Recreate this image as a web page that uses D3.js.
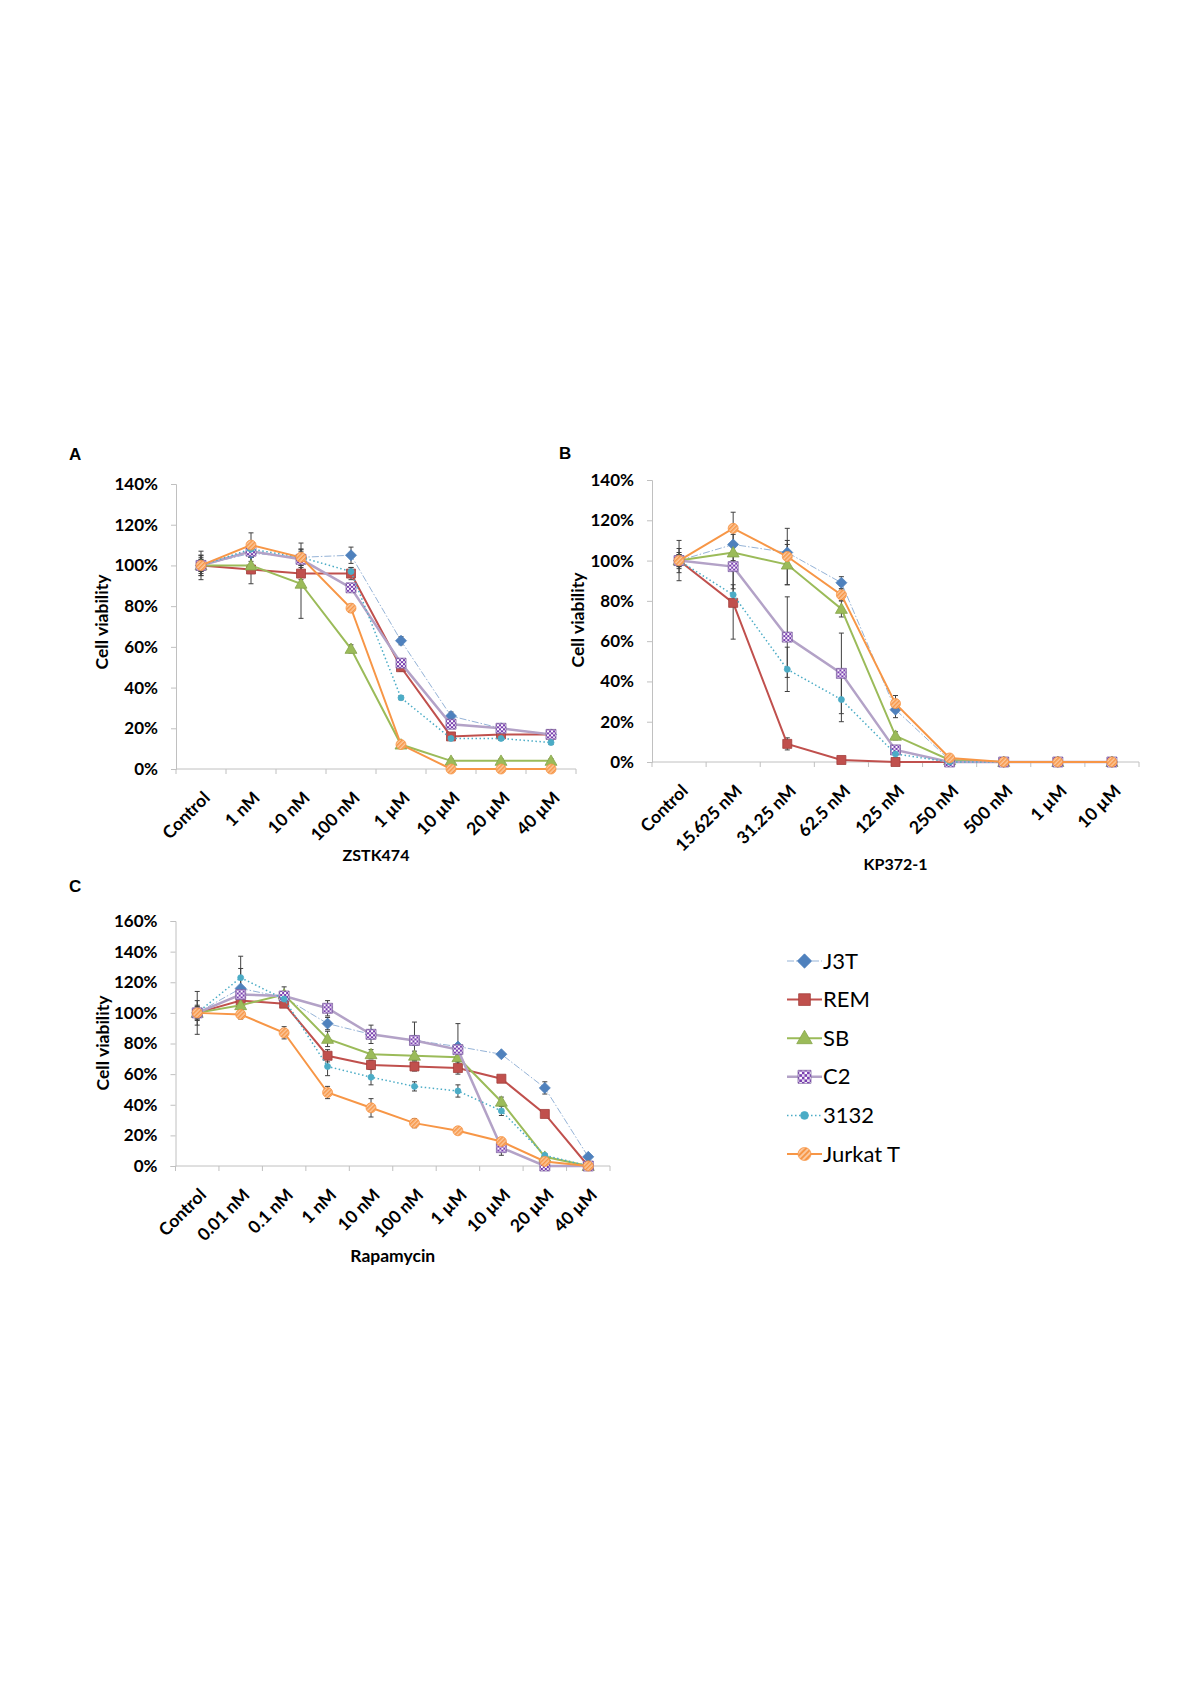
<!DOCTYPE html>
<html>
<head>
<meta charset="utf-8">
<script src="https://cdn.jsdelivr.net/npm/d3@7"></script>
<style>
  body { margin: 0; background: #fff; }
  svg { display: block; }
  .tick text { font-family: Lato, "Open Sans", sans-serif; font-weight: bold; font-size: 17px; fill: #000; }
  .lbl { font-family: Lato, "Open Sans", sans-serif; font-weight: bold; fill: #000; }
</style>
</head>
<body>
<div id="chart"></div>
<script>
// series names, in drawing order
const seriesNames = ["J3T", "REM", "SB", "C2", "3132", "Jurkat T"];

// ---- panel A: ZSTK474 ----
const catsA = ["Control", "1 nM", "10 nM", "100 nM", "1 µM", "10 µM", "20 µM", "40 µM"];
const a_J3T   = [100, 106, 104, 105, 63, 26, 20, 17];
const a_REM   = [100, 98, 96, 96, 50, 16, 17, 17];
const a_SB    = [100, 100, 91, 59, 12, 4, 4, 4];
const a_C2    = [100, 107, 103, 89, 52, 22, 20, 17];
const a_3132  = [100, 108, 104, 97, 35, 15, 15, 13];
const a_JurT  = [100, 110, 104, 79, 12, 0, 0, 0];
const aErr_J3T  = [7, 4, 4, 4, 2, 2, 1, 1];
const aErr_REM  = [5, 7, 3, 3, 2, 1, 1, 1];
const aErr_SB   = [4, 4, 17, 2, 1, 1, 1, 1];
const aErr_C2   = [3, 3, 3, 2, 2, 2, 1, 1];
const aErr_3132 = [5, 3, 7, 2, 1, 1, 1, 1];
const aErr_JurT = [3, 6, 3, 2, 1, 0, 0, 0];

// ---- panel B: KP372-1 ----
const catsB = ["Control", "15.625 nM", "31.25 nM", "62.5 nM", "125 nM", "250 nM", "500 nM", "1 µM", "10 µM"];
const b_J3T   = [100, 108, 104, 89, 26, 1, 0, 0, 0];
const b_REM   = [100, 79, 9, 1, 0, 0, 0, 0, 0];
const b_SB    = [100, 104, 98, 76, 13, 1, 0, 0, 0];
const b_C2    = [100, 97, 62, 44, 6, 0, 0, 0, 0];
const b_3132  = [100, 83, 46, 31, 4, 0, 0, 0, 0];
const b_JurT  = [100, 116, 102, 83, 29, 2, 0, 0, 0];
const bErr_J3T  = [6, 5, 6, 3, 4, 0, 0, 0, 0];
const bErr_REM  = [10, 18, 3, 1, 0, 0, 0, 0, 0];
const bErr_SB   = [3, 4, 10, 4, 2, 0, 0, 0, 0];
const bErr_C2   = [3, 11, 20, 20, 2, 0, 0, 0, 0];
const bErr_3132 = [4, 5, 11, 11, 2, 0, 0, 0, 0];
const bErr_JurT = [2, 8, 14, 3, 4, 0, 0, 0, 0];

// ---- panel C: Rapamycin ----
const catsC = ["Control", "0.01 nM", "0.1 nM", "1 nM", "10 nM", "100 nM", "1 µM", "10 µM", "20 µM", "40 µM"];
const c_J3T   = [100, 116, 110, 93, 86, 82, 78, 73, 51, 6];
const c_REM   = [100, 108, 106, 72, 66, 65, 64, 57, 34, 0];
const c_SB    = [100, 105, 112, 83, 73, 72, 71, 42, 6, 0];
const c_C2    = [100, 112, 111, 103, 86, 82, 76, 12, 0, 0];
const c_3132  = [100, 123, 109, 65, 58, 52, 49, 36, 7, 0];
const c_JurT  = [100, 99, 87, 48, 38, 28, 23, 16, 3, 0];
const cErr_J3T  = [14, 13, 3, 4, 3, 3, 15, 1, 4, 1];
const cErr_REM  = [4, 3, 2, 4, 3, 3, 4, 2, 2, 1];
const cErr_SB   = [3, 3, 5, 5, 3, 3, 3, 3, 1, 0];
const cErr_C2   = [5, 4, 3, 5, 6, 12, 3, 5, 1, 0];
const cErr_3132 = [8, 14, 3, 6, 5, 3, 4, 3, 1, 0];
const cErr_JurT = [4, 3, 4, 4, 6, 3, 2, 2, 1, 0];

const yTicksA = [0, 20, 40, 60, 80, 100, 120, 140];
const yTicksC = [0, 20, 40, 60, 80, 100, 120, 140, 160];

// styling per series
const styles = {
  "J3T":      {line: "#95B3D7", width: 1,   dash: "7,2,1.5,2", marker: "diamond", fill: "#4F81BD", stroke: "#4F81BD", size: 11},
  "REM":      {line: "#C0504D", width: 2,   dash: null,        marker: "square",  fill: "#C0504D", stroke: "#A33F3C", size: 9},
  "SB":       {line: "#9BBB59", width: 2,   dash: null,        marker: "triangle",fill: "#9BBB59", stroke: "#85A34A", size: 12},
  "C2":       {line: "#B3A2C7", width: 2.5, dash: null,        marker: "square",  fill: "url(#checker)", stroke: "#8064A2", size: 10},
  "3132":     {line: "#4BACC6", width: 1.5, dash: "1.5,2.5",   marker: "circle",  fill: "#4BACC6", stroke: "#4BACC6", size: 6},
  "Jurkat T": {line: "#F79646", width: 2,   dash: null,        marker: "circle",  fill: "url(#hatch)", stroke: "#F79646", size: 10}
};

const svg = d3.select("#chart").append("svg")
  .attr("width", 1200).attr("height", 1698)
  .style("background", "#fff");

// patterns for the filled markers
const defs = svg.append("defs");
const chk = defs.append("pattern").attr("id", "checker")
  .attr("patternUnits", "userSpaceOnUse").attr("width", 4).attr("height", 4);
chk.append("rect").attr("width", 4).attr("height", 4).attr("fill", "#7A3FB0");
chk.append("rect").attr("width", 2).attr("height", 2).attr("fill", "#fff");
chk.append("rect").attr("x", 2).attr("y", 2).attr("width", 2).attr("height", 2).attr("fill", "#E6DCF0");
const hatch = defs.append("pattern").attr("id", "hatch")
  .attr("patternUnits", "userSpaceOnUse").attr("width", 3).attr("height", 3)
  .attr("patternTransform", "rotate(45)");
hatch.append("rect").attr("width", 3).attr("height", 3).attr("fill", "#FBC89E");
hatch.append("rect").attr("width", 1.5).attr("height", 3).attr("fill", "#F79646");

// square diamond (d3's own is stretched)
const evenDiamond = {
  draw(ctx, size) {
    let r = Math.sqrt(size / 2);
    ctx.moveTo(0, -r); ctx.lineTo(r, 0); ctx.lineTo(0, r); ctx.lineTo(-r, 0); ctx.closePath();
  }
};

function symbolFor(s) {
  let st = styles[s];
  let type = {diamond: evenDiamond, square: d3.symbolSquare, triangle: d3.symbolTriangle, circle: d3.symbolCircle}[st.marker];
  let area = st.marker == "circle" ? Math.PI * (st.size/2) * (st.size/2)
           : st.marker == "diamond" ? st.size * st.size / 2
           : st.marker == "triangle" ? st.size * st.size * 0.43
           : st.size * st.size;
  return d3.symbol().type(type).size(area)();
}

/**
 * Draws one panel: axes, error bars, lines and markers.
 */
function drawPanel(p) {
  let g = svg.append("g");
  let x = d3.scaleBand().domain(p.cats).range([p.x0, p.x1]);
  let y = d3.scaleLinear().domain([0, p.yMax]).range([p.y0, p.yTop]);
  let cx = c => x(c) + x.bandwidth()/2;

  // y axis
  let ya = g.append("g").attr("transform", `translate(${p.x0},0)`)
    .call(d3.axisLeft(y).tickValues(p.yTicks).tickFormat(d => d + "%").tickSize(5).tickPadding(13));
  ya.select(".domain").attr("stroke", "#C0C0C0");
  ya.selectAll(".tick line").attr("stroke", "#C0C0C0");

  // x axis line + boundary ticks
  g.append("line").attr("x1", p.x0).attr("x2", p.x1).attr("y1", p.y0).attr("y2", p.y0)
    .attr("stroke", "#C0C0C0");
  g.selectAll(".xt").data(d3.range(p.cats.length + 1)).enter().append("line")
    .attr("x1", i => p.x0 + i * x.step()).attr("x2", i => p.x0 + i * x.step())
    .attr("y1", p.y0).attr("y2", p.y0 + 5).attr("stroke", "#C0C0C0");
  g.selectAll(".xl").data(p.cats).enter().append("text")
    .attr("class", "lbl").attr("font-size", 17.5)
    .attr("text-anchor", "end")
    .attr("transform", c => `translate(${cx(c) + 10},${p.y0 + 30}) rotate(-45)`)
    .text(c => c);

  // titles
  g.append("text").attr("class", "lbl").attr("font-size", p.titleSize).attr("text-anchor", "middle")
    .attr("x", (p.x0 + p.x1)/2).attr("y", p.titleY).text(p.title);
  g.append("text").attr("class", "lbl").attr("font-size", 17.5).attr("text-anchor", "middle")
    .attr("transform", `translate(${p.ylabX},${p.ylabY}) rotate(-90)`).text("Cell viability");
  g.append("text").attr("font-family", "Liberation Sans, Arial, sans-serif").attr("font-weight", "bold")
    .attr("font-size", 17).attr("x", p.letterX).attr("y", p.letterY).text(p.letter);

  // error bars
  p.series.forEach((vals, si) => {
    let errs = p.errors[si];
    let eb = g.append("g").attr("stroke", "#404040").attr("stroke-width", 1);
    p.cats.forEach((c, i) => {
      if (!errs[i]) return;
      let yt = y(vals[i] + errs[i]), yb = y(Math.max(0, vals[i] - errs[i]));
      eb.append("line").attr("x1", cx(c)).attr("x2", cx(c)).attr("y1", yt).attr("y2", yb);
      eb.append("line").attr("x1", cx(c) - 2.5).attr("x2", cx(c) + 2.5).attr("y1", yt).attr("y2", yt);
      eb.append("line").attr("x1", cx(c) - 2.5).attr("x2", cx(c) + 2.5).attr("y1", yb).attr("y2", yb);
    });
  });

  // lines and markers, series after series
  p.series.forEach((vals, si) => {
    let name = seriesNames[si];
    let st = styles[name];
    let line = d3.line().x((d, i) => cx(p.cats[i])).y(d => y(d));
    g.append("path").attr("d", line(vals)).attr("fill", "none")
      .attr("stroke", st.line).attr("stroke-width", st.width)
      .attr("stroke-dasharray", st.dash);
    g.selectAll(null).data(vals).enter().append("path")
      .attr("d", symbolFor(name))
      .attr("transform", (d, i) => `translate(${cx(p.cats[i])},${y(d) + (st.marker == "triangle" ? 1 : 0)})`)
      .attr("fill", st.fill).attr("stroke", st.stroke).attr("stroke-width", 0.8);
  });
}

drawPanel({
  letter: "A", letterX: 69, letterY: 460,
  cats: catsA, x0: 176, x1: 576, y0: 769, yTop: 484, yMax: 140, yTicks: yTicksA,
  title: "ZSTK474", titleSize: 16, titleY: 861, ylabX: 108, ylabY: 622,
  series: [a_J3T, a_REM, a_SB, a_C2, a_3132, a_JurT],
  errors: [aErr_J3T, aErr_REM, aErr_SB, aErr_C2, aErr_3132, aErr_JurT]
});
drawPanel({
  letter: "B", letterX: 559, letterY: 459,
  cats: catsB, x0: 652, x1: 1139, y0: 762, yTop: 480, yMax: 140, yTicks: yTicksA,
  title: "KP372-1", titleSize: 16, titleY: 870, ylabX: 584, ylabY: 620,
  series: [b_J3T, b_REM, b_SB, b_C2, b_3132, b_JurT],
  errors: [bErr_J3T, bErr_REM, bErr_SB, bErr_C2, bErr_3132, bErr_JurT]
});
drawPanel({
  letter: "C", letterX: 69, letterY: 892,
  cats: catsC, x0: 175.5, x1: 610, y0: 1166, yTop: 921, yMax: 160, yTicks: yTicksC,
  title: "Rapamycin", titleSize: 17.5, titleY: 1262, ylabX: 109, ylabY: 1043,
  series: [c_J3T, c_REM, c_SB, c_C2, c_3132, c_JurT],
  errors: [cErr_J3T, cErr_REM, cErr_SB, cErr_C2, cErr_3132, cErr_JurT]
});

// legend
const legY = d3.scalePoint().domain(seriesNames).range([961, 1154]);
const leg = svg.append("g");
seriesNames.forEach(name => {
  let st = styles[name];
  let yy = legY(name);
  leg.append("line").attr("x1", 787).attr("x2", 822).attr("y1", yy).attr("y2", yy)
    .attr("stroke", st.line).attr("stroke-width", st.width).attr("stroke-dasharray", st.dash);
  leg.append("path").attr("d", symbolFor(name))
    .attr("transform", `translate(804.5,${yy + (st.marker == "triangle" ? 1 : 0)}) scale(1.3)`)
    .attr("fill", st.fill).attr("stroke", st.stroke).attr("stroke-width", 0.6);
  leg.append("text").attr("font-family", "Lato, 'Open Sans', sans-serif").attr("font-size", 22)
    .attr("x", 823).attr("y", yy + 7.5).text(name);
});
</script>
</body>
</html>
